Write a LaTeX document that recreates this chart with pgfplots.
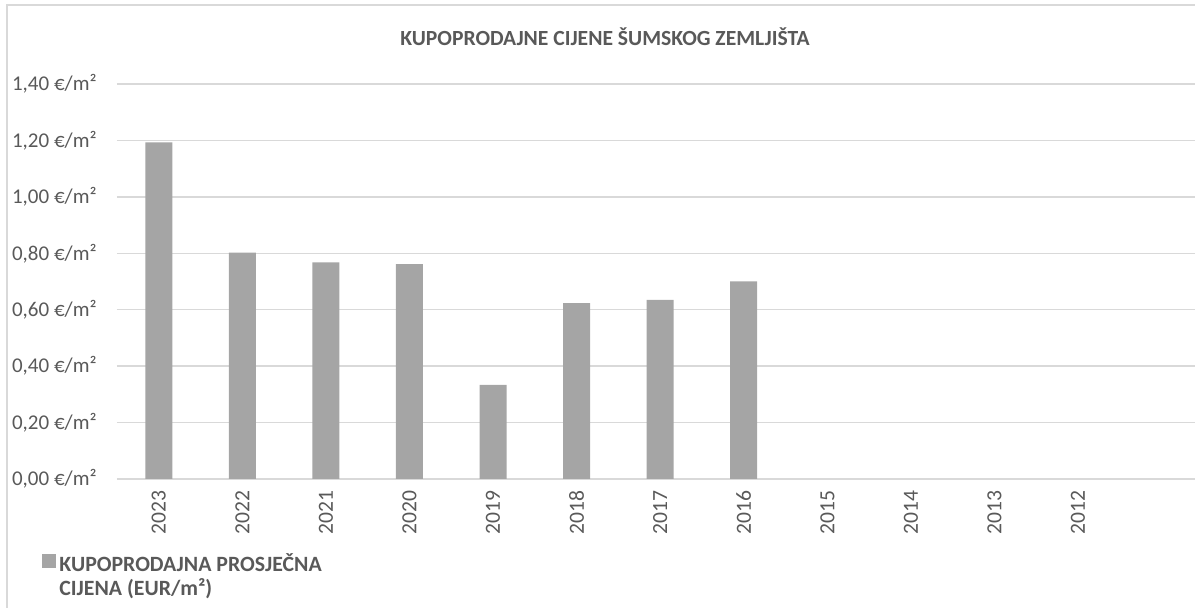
\documentclass[border=0pt]{standalone}
\usepackage{pgfplots}
\pgfplotsset{compat=1.18}
\usepackage{fontspec}
\setmainfont{Carlito}
\definecolor{txt}{HTML}{595959}
\definecolor{barc}{HTML}{A5A5A5}
\definecolor{gridc}{HTML}{D9D9D9}
\begin{document}
\begin{tikzpicture}
\begin{axis}[
  scale only axis, width=539bp, height=197.5bp,
  xmin=-0.5, xmax=12.4, ymin=0, ymax=1.4,
  ytick={0,0.2,0.4,0.6,0.8,1.0,1.2,1.4},
  xtick={0,1,2,3,4,5,6,7,8,9,10,11},
  xticklabels={2023,2022,2021,2020,2019,2018,2017,2016,2015,2014,2013,2012},
  major tick length=0pt,
  axis line style={draw=none},
  ymajorgrids, grid style={gridc, line width=0.75bp},
  /pgf/number format/assume math mode=true,
  yticklabel={\pgfmathprintnumber[fixed,fixed zerofill,precision=2,use comma]{\tick}~€/m²},
  yticklabel style={font=\fontsize{10.5bp}{12.6bp}\selectfont, text=txt, inner sep=0pt},
  yticklabel shift=10bp,
  xticklabel style={font=\fontsize{10.8bp}{12.6bp}\selectfont, text=txt, rotate=90, anchor=east, inner sep=0pt},
  xticklabel shift=5.5bp,
  title={KUPOPRODAJNE CIJENE ŠUMSKOG ZEMLJIŠTA},
  title style={at={(0.4527,1.066)}, anchor=base, font=\fontsize{10.8bp}{12.6bp}\selectfont\bfseries, text=txt, inner sep=0pt},
  legend style={at={(-0.0696,-0.189)}, anchor=north west, draw=none, fill=none, inner sep=0pt,
    font=\fontsize{10.9bp}{11.9bp}\selectfont\bfseries, text=txt,
    nodes={align=left, inner sep=0pt}, column sep=1.5bp},
  legend image code/.code={\fill[barc] (0bp,4bp) rectangle (7bp,11bp);},
]
\addplot[ybar, bar width=13.5bp, fill=barc, draw=none] coordinates {
  (0,1.193) (1,0.802) (2,0.768) (3,0.762) (4,0.334) (5,0.623) (6,0.635) (7,0.700)
};
\addlegendentry{KUPOPRODAJNA PROSJEČNA\\CIJENA (EUR/m²)}
\end{axis}
\draw[gridc, line width=0.75bp] (-55bp,-90bp) rectangle (620bp,237bp);
\pgfresetboundingbox
\path[use as bounding box] (-58.5bp,-64.5bp) rectangle (539bp,239.5bp);
\end{tikzpicture}
\end{document}
